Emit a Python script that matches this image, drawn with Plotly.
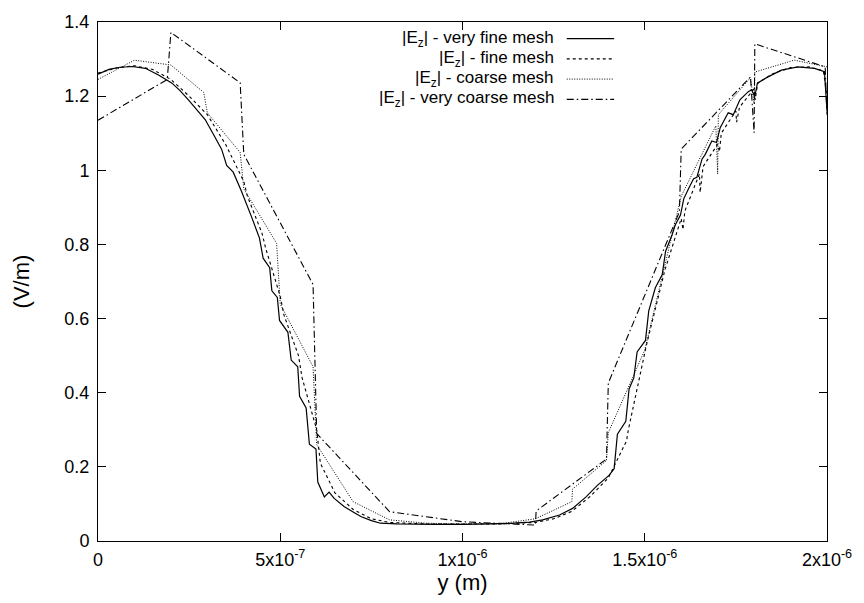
import plotly.graph_objects as go

# ---- data (x in micrometres, converted to metres when plotted) ----
vfine_x = [0, 0.03, 0.06, 0.094, 0.13, 0.166, 0.203, 0.225, 0.248, 0.27, 0.294, 0.315,
           0.339, 0.353, 0.371, 0.393, 0.398, 0.421, 0.443, 0.453, 0.471, 0.477, 0.492,
           0.498, 0.521, 0.530, 0.548, 0.553, 0.571, 0.580, 0.598, 0.603, 0.621, 0.634,
           0.648, 0.675, 0.700, 0.721, 0.750, 0.775, 0.82, 0.866, 0.93, 1.002, 1.08,
           1.14, 1.184, 1.220, 1.266, 1.302, 1.339, 1.370, 1.402, 1.416, 1.425, 1.448,
           1.457, 1.470, 1.479, 1.502, 1.511, 1.529, 1.548, 1.557, 1.575, 1.584, 1.598,
           1.607, 1.620, 1.634, 1.643, 1.657, 1.666, 1.684, 1.697, 1.707, 1.729, 1.743,
           1.761, 1.784, 1.793, 1.802, 1.809, 1.838, 1.875, 1.920, 1.966, 1.993, 2.0]
vfine_y = [1.259, 1.272, 1.278, 1.280, 1.275, 1.257, 1.235, 1.215, 1.190, 1.165, 1.137, 1.100,
           1.057, 1.013, 0.995, 0.945, 0.933, 0.875, 0.817, 0.763, 0.737, 0.675, 0.657,
           0.595, 0.563, 0.488, 0.470, 0.390, 0.359, 0.261, 0.248, 0.159, 0.119, 0.132,
           0.115, 0.093, 0.078, 0.066, 0.055, 0.048, 0.046, 0.045, 0.045, 0.045, 0.046,
           0.048, 0.051, 0.057, 0.070, 0.088, 0.119, 0.150, 0.177, 0.195, 0.288, 0.323,
           0.410, 0.440, 0.510, 0.541, 0.621, 0.683, 0.719, 0.781, 0.826, 0.853, 0.879,
           0.923, 0.950, 0.977, 0.981, 1.030, 1.043, 1.079, 1.075, 1.115, 1.155, 1.150,
           1.190, 1.212, 1.217, 1.199, 1.235, 1.252, 1.270, 1.279, 1.275, 1.266, 1.160]

fine_x = [0, 0.05, 0.1, 0.15, 0.2, 0.25, 0.3, 0.35, 0.4, 0.41, 0.45, 0.46, 0.5, 0.51,
          0.55, 0.56, 0.6, 0.61, 0.65, 0.7, 0.75, 0.8, 0.9, 1.0, 1.1, 1.2, 1.25, 1.3,
          1.35, 1.4, 1.41, 1.45, 1.455, 1.5, 1.505, 1.55, 1.555, 1.6, 1.605, 1.61, 1.65,
          1.652, 1.66, 1.7, 1.705, 1.71, 1.75, 1.752, 1.76, 1.8, 1.803, 1.81, 1.85, 1.9,
          1.95, 1.99, 2.0]
fine_y = [1.262, 1.276, 1.282, 1.272, 1.245, 1.200, 1.150, 1.070, 0.970, 0.930, 0.830,
          0.790, 0.660, 0.610, 0.500, 0.440, 0.300, 0.210, 0.130, 0.085, 0.060, 0.050,
          0.046, 0.045, 0.046, 0.050, 0.060, 0.080, 0.120, 0.170, 0.190, 0.270, 0.300,
          0.500, 0.530, 0.710, 0.730, 0.870, 0.840, 0.890, 0.990, 0.940, 1.010, 1.070,
          1.050, 1.100, 1.160, 1.130, 1.170, 1.220, 1.190, 1.235, 1.260, 1.277, 1.279,
          1.268, 1.200]

coarse_x = [0, 0.1, 0.2, 0.29, 0.30, 0.39, 0.40, 0.49, 0.50, 0.59, 0.60, 0.70, 0.80,
            0.90, 1.0, 1.1, 1.2, 1.3, 1.302, 1.395, 1.40, 1.5, 1.6, 1.695, 1.70, 1.702,
            1.79, 1.80, 1.802, 1.91, 2.0]
coarse_y = [1.245, 1.297, 1.284, 1.210, 1.155, 1.048, 0.950, 0.803, 0.639, 0.470, 0.260,
            0.106, 0.057, 0.048, 0.046, 0.046, 0.060, 0.106, 0.140, 0.217, 0.292, 0.515,
            0.930, 1.120, 0.990, 1.150, 1.250, 1.180, 1.265, 1.297, 1.279]

vcoarse_x = [0, 0.19, 0.2, 0.39, 0.40, 0.59, 0.60, 0.80, 1.0, 1.2, 1.202, 1.395, 1.40,
             1.595, 1.60, 1.79, 1.80, 1.802, 1.995, 2.0]
vcoarse_y = [1.135, 1.245, 1.372, 1.236, 1.043, 0.692, 0.290, 0.079, 0.052, 0.043, 0.081,
             0.221, 0.426, 0.888, 1.057, 1.252, 1.101, 1.341, 1.279, 1.150]

series_names = ["|E<sub>z</sub>| - very fine mesh", "|E<sub>z</sub>| - fine mesh",
                "|E<sub>z</sub>| - coarse mesh", "|E<sub>z</sub>| - very coarse mesh"]

x_tick_vals = [0, 5e-7, 1e-6, 1.5e-6, 2e-6]
x_tick_text = ["0", "5x10<sup>-7</sup>", "1x10<sup>-6</sup>", "1.5x10<sup>-6</sup>",
               "2x10<sup>-6</sup>"]
y_tick_vals = [0, 0.2, 0.4, 0.6, 0.8, 1.0, 1.2, 1.4]
y_tick_text = ["0", "0.2", "0.4", "0.6", "0.8", "1", "1.2", "1.4"]

dashes = ["solid", "3px,3px", "1px,1.5px", "7px,3px,1.5px,3px"]
widths = [1.2, 1.1, 1.0, 1.1]

FS = 18
LEG_FS = 17

fig = go.Figure()
all_series = [(vfine_x, vfine_y), (fine_x, fine_y), (coarse_x, coarse_y), (vcoarse_x, vcoarse_y)]
for (xs, ys), name, d, w in zip(all_series, series_names, dashes, widths):
    fig.add_trace(go.Scatter(x=[v * 1e-6 for v in xs], y=ys, mode="lines", name=name,
                             line=dict(color="black", width=w, dash=d),
                             showlegend=False))

# manual gnuplot-style legend (text right-aligned, sample on the right)
leg_rows = [0.968, 0.929, 0.890, 0.851]
for name, d, w, yr in zip(series_names, dashes, widths, leg_rows):
    fig.add_annotation(x=0.627, y=yr, xref="paper", yref="paper", text=name,
                       showarrow=False, xanchor="right", yanchor="middle",
                       borderpad=0, font=dict(size=LEG_FS, color="black"))
    fig.add_shape(type="line", xref="paper", yref="paper", x0=0.643, x1=0.708,
                  y0=yr, y1=yr, line=dict(color="black", width=w, dash=d))

axis_common = dict(showline=True, linecolor="black", linewidth=1, mirror="allticks",
                   ticks="inside", ticklen=8, tickcolor="black", tickwidth=1,
                   showgrid=False, zeroline=False)

fig.update_layout(
    width=864, height=603,
    margin=dict(l=98, r=32, t=19, b=60),
    plot_bgcolor="white", paper_bgcolor="white",
    font=dict(family="Liberation Sans, Arial, sans-serif", size=FS, color="black"),
    xaxis=dict(range=[0, 2e-6], tickmode="array", tickvals=x_tick_vals,
               ticktext=x_tick_text, ticklabelstandoff=2,
               title=dict(text="y (m)", standoff=6), **axis_common),
    yaxis=dict(range=[0, 1.4], tickmode="array", tickvals=y_tick_vals,
               ticktext=y_tick_text, ticklabelstandoff=4,
               title=dict(text="(V/m)", standoff=28), **axis_common),
)

fig.write_html("out.html")
